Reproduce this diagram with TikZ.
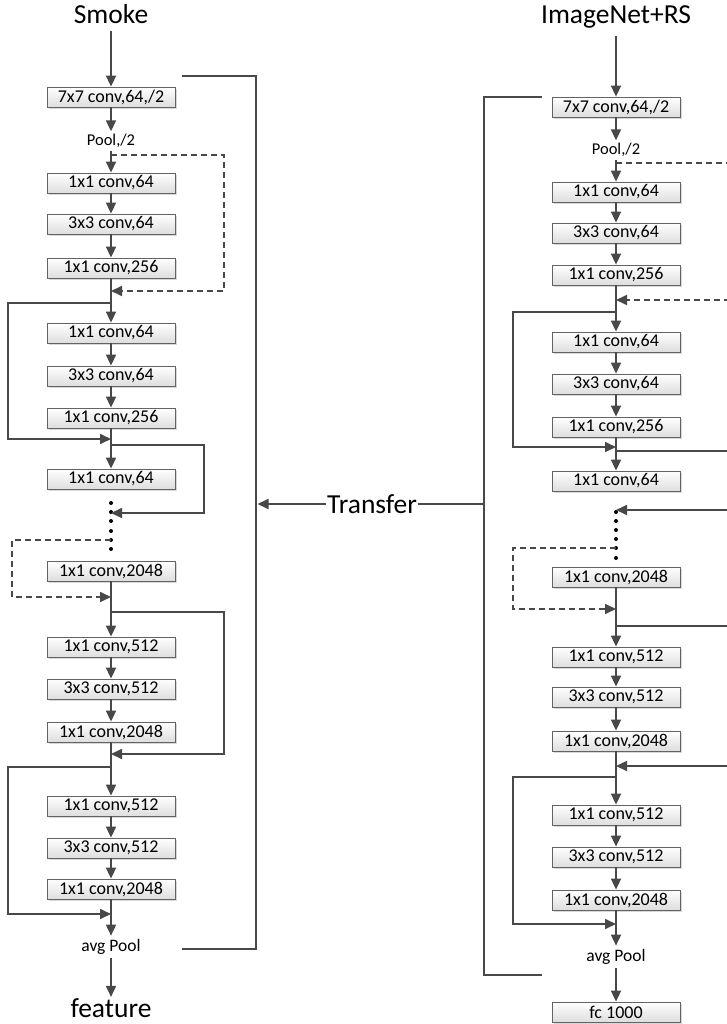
\documentclass[tikz,border=0pt]{standalone}
\usepackage{fontspec}
\setmainfont{Carlito}
\usetikzlibrary{arrows.meta,shadows}
\definecolor{ln}{HTML}{484848}
\begin{document}
\begin{tikzpicture}[x=1pt,y=-1pt,
  conn/.style={draw=ln,line width=1.7pt},
  arr/.style={conn,-{Triangle[length=11pt,width=10pt]}},
  dsh/.style={dash pattern=on 6pt off 4pt},
  layer/.style={draw=ln!85,line width=0.8pt,top color=white,bottom color=black!13,
    minimum width=128pt,minimum height=20pt,inner sep=0pt,
    font=\fontsize{18}{18}\selectfont,
    drop shadow={shadow xshift=2pt,shadow yshift=-2pt,fill=black!30,opacity=0.5}},
  lbl/.style={font=\fontsize{16.5}{17}\selectfont,inner sep=3pt},
  ttl/.style={font=\fontsize{27.5}{30}\selectfont,inner sep=1pt},
  dot/.style={circle,fill=black,inner sep=0pt,minimum size=4pt}
]
\useasboundingbox (0,0) rectangle (726,1024);

% ---------------- left network: Smoke ----------------
\node[ttl,anchor=base] (smoke) at (111,23.5) {Smoke};
\node[layer] (L1) at (111,97) {7x7 conv,64,/2};
\node[lbl,anchor=base] (Lp) at (111,146) {Pool,/2};
\node[layer] (L2) at (111,183) {1x1 conv,64};
\node[layer] (L3) at (111,224) {3x3 conv,64};
\node[layer] (L4) at (111,268) {1x1 conv,256};
\node[layer] (L5) at (111,333) {1x1 conv,64};
\node[layer] (L6) at (111,376) {3x3 conv,64};
\node[layer] (L7) at (111,418) {1x1 conv,256};
\node[layer] (L8) at (111,479) {1x1 conv,64};
\foreach \y [count=\i] in {503,512,521,531,540,549} \node[dot] (Ld\i) at (111,\y) {};
\node[layer] (L9) at (111,571) {1x1 conv,2048};
\node[layer] (L10) at (111,647) {1x1 conv,512};
\node[layer] (L11) at (111,689) {3x3 conv,512};
\node[layer] (L12) at (111,732) {1x1 conv,2048};
\node[layer] (L13) at (111,806) {1x1 conv,512};
\node[layer] (L14) at (111,848) {3x3 conv,512};
\node[layer] (L15) at (111,889) {1x1 conv,2048};
\node[lbl,anchor=base,font=\fontsize{17.5}{18}\selectfont] (Lavg) at (111,951) {avg Pool};
\node[ttl,anchor=base] (feat) at (111,1017) {feature};

% main path
\draw[arr,shorten <=6pt] (smoke) -- (L1);
\draw[arr] (L1) -- (Lp);
\draw[arr] (Lp) -- (L2);
\draw[arr] (L2) -- (L3);
\draw[arr] (L3) -- (L4);
\draw[arr] (L4) -- (L5);
\draw[arr] (L5) -- (L6);
\draw[arr] (L6) -- (L7);
\draw[arr] (L7) -- (L8);
\draw[arr] (L9) -- (L10);
\draw[arr] (L10) -- (L11);
\draw[arr] (L11) -- (L12);
\draw[arr] (L12) -- (L13);
\draw[arr] (L13) -- (L14);
\draw[arr] (L14) -- (L15);
\draw[arr] (L15) -- (Lavg);
\draw[arr,shorten <=1pt] (Lavg) -- (feat);

% shortcut connections
\coordinate (la1) at (111,155);  \coordinate (lb1) at (111,291);
\draw[arr,dsh] (la1) -| (224,291) -- (lb1);
\coordinate (la2) at (111,303);  \coordinate (lb2) at (111,439);
\draw[arr] (la2) -| (8,439) -- (lb2);
\coordinate (la3) at (111,445);  \coordinate (lb3) at (111,513);
\draw[arr] (la3) -| (204,513) -- (lb3);
\draw[arr,dsh] (Ld5.center) -| (12,597) -- (111,597) coordinate (lb4);
\coordinate (la5) at (111,612);  \coordinate (lb5) at (111,754);
\draw[arr] (la5) -| (224,754) -- (lb5);
\coordinate (la6) at (111,767);  \coordinate (lb6) at (111,914);
\draw[arr] (la6) -| (8,914) -- (lb6);

% bracket around the whole network
\coordinate (lbt) at (182,76);
\coordinate (lbb) at (182,949);
\draw[conn] (lbt) -- (256,76) -- (256,949) -- (lbb);

% ---------------- transfer ----------------
\node[ttl] (tr) at (372,504) {Transfer};
\coordinate (trL) at (257.5,504);
\coordinate (trR) at (484,504);
\draw[conn] (trR) -- (tr);
\draw[arr] (tr) -- (trL);

% ---------------- right network: ImageNet+RS ----------------
\node[ttl,anchor=base] (inet) at (616,24) {ImageNet+RS};
\node[layer] (R1) at (616,107) {7x7 conv,64,/2};
\node[lbl,anchor=base] (Rp) at (616,155) {Pool,/2};
\node[layer] (R2) at (616,192) {1x1 conv,64};
\node[layer] (R3) at (616,233) {3x3 conv,64};
\node[layer] (R4) at (616,275) {1x1 conv,256};
\node[layer] (R5) at (616,342) {1x1 conv,64};
\node[layer] (R6) at (616,384) {3x3 conv,64};
\node[layer] (R7) at (616,427) {1x1 conv,256};
\node[layer] (R8) at (616,481) {1x1 conv,64};
\foreach \y [count=\i] in {512,521,530,539,548,558} \node[dot] (Rd\i) at (616,\y) {};
\node[layer] (R9) at (616,577) {1x1 conv,2048};
\node[layer] (R10) at (616,657) {1x1 conv,512};
\node[layer] (R11) at (616,697) {3x3 conv,512};
\node[layer] (R12) at (616,741) {1x1 conv,2048};
\node[layer] (R13) at (616,815) {1x1 conv,512};
\node[layer] (R14) at (616,857) {3x3 conv,512};
\node[layer] (R15) at (616,900) {1x1 conv,2048};
\node[lbl,anchor=base,font=\fontsize{17.5}{18}\selectfont] (Ravg) at (616,961) {avg Pool};
\node[layer] (R16) at (616,1012) {fc 1000};

% main path
\draw[arr,shorten <=6pt] (inet) -- (R1);
\draw[arr] (R1) -- (Rp);
\draw[arr] (Rp) -- (R2);
\draw[arr] (R2) -- (R3);
\draw[arr] (R3) -- (R4);
\draw[arr] (R4) -- (R5);
\draw[arr] (R5) -- (R6);
\draw[arr] (R6) -- (R7);
\draw[arr] (R7) -- (R8);
\draw[arr] (R9) -- (R10);
\draw[arr] (R10) -- (R11);
\draw[arr] (R11) -- (R12);
\draw[arr] (R12) -- (R13);
\draw[arr] (R13) -- (R14);
\draw[arr] (R14) -- (R15);
\draw[arr] (R15) -- (Ravg);
\draw[arr,shorten <=1pt] (Ravg) -- (R16);

% shortcut connections (running past the right edge)
\coordinate (ra1) at (616,163);
\draw[conn,dsh] (ra1) -- (740,163);
\coordinate (rb1) at (616,300);
\draw[arr,dsh] (740,300) -- (rb1);
\coordinate (ra2) at (616,312);  \coordinate (rb2) at (616,447);
\draw[arr] (ra2) -| (513,447) -- (rb2);
\coordinate (ra3) at (616,451);
\draw[conn] (ra3) -- (740,451);
\coordinate (rb3) at (616,510);
\draw[arr] (740,510) -- (rb3);
\draw[arr,dsh] (Rd5.center) -| (513,609) -- (616,609) coordinate (rb4);
\coordinate (ra5) at (616,626);
\draw[conn] (ra5) -- (740,626);
\coordinate (rb5) at (616,766);
\draw[arr] (740,766) -- (rb5);
\coordinate (ra6) at (616,777);  \coordinate (rb6) at (616,924);
\draw[arr] (ra6) -| (513,924) -- (rb6);

% bracket around the whole network
\coordinate (rbt) at (542,97);
\coordinate (rbb) at (542,975);
\draw[conn] (rbt) -- (484,97) -- (484,975) -- (rbb);
\end{tikzpicture}
\end{document}
